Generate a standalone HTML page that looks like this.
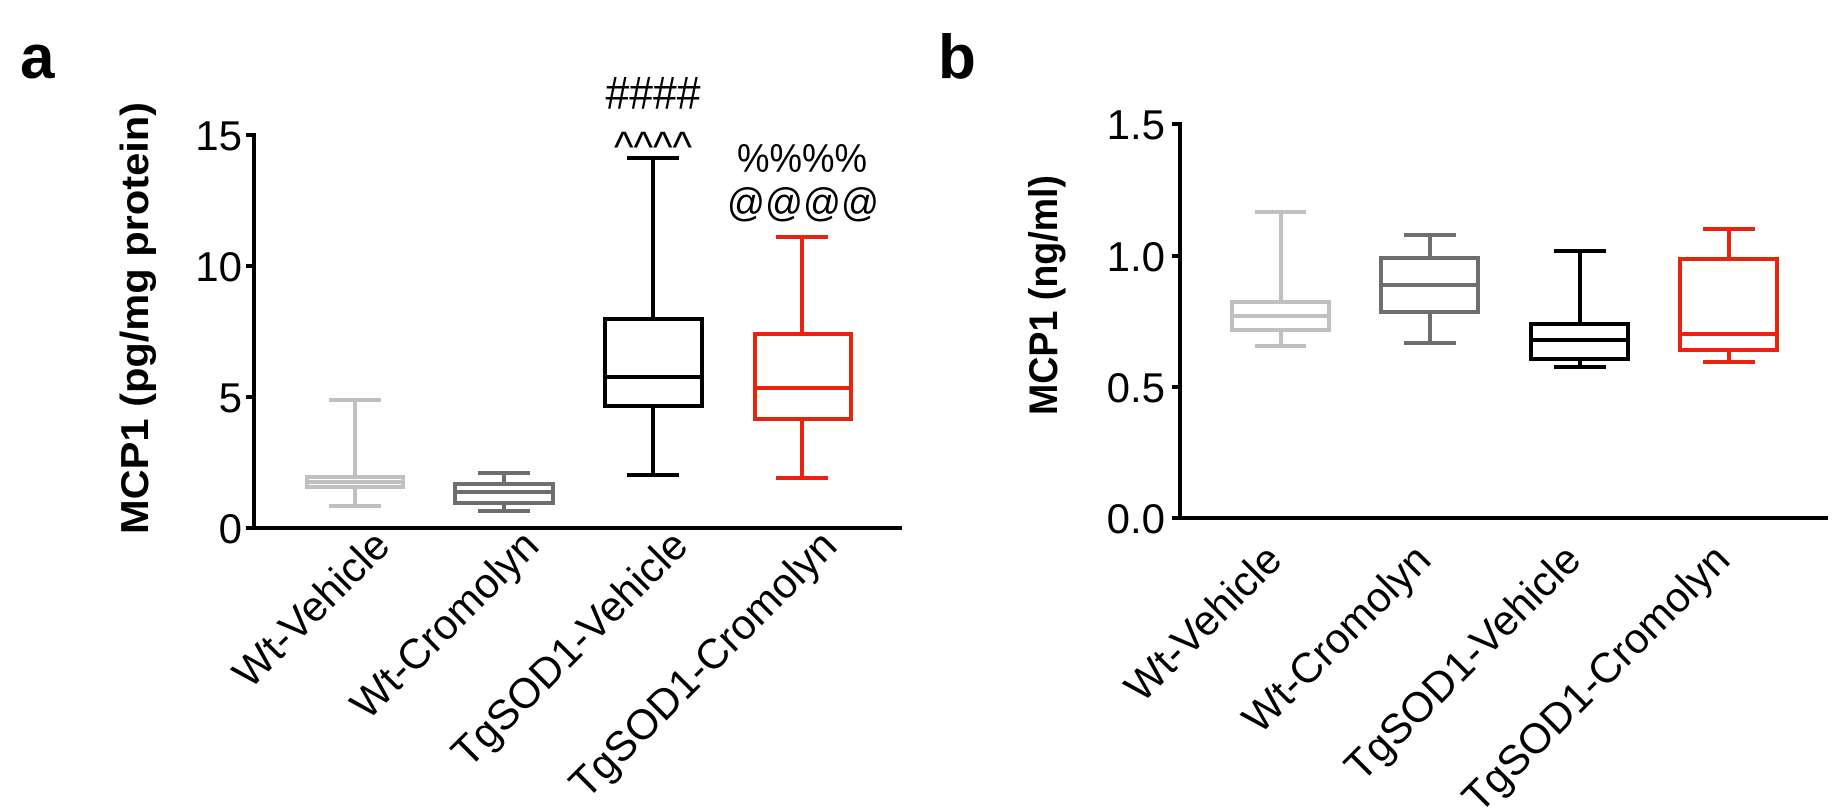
<!DOCTYPE html>
<html><head><meta charset="utf-8"><style>
html,body{margin:0;padding:0;background:#fff;}
svg{display:block;}
text{font-family:"Liberation Sans",Arial,sans-serif;}
</style></head><body>
<svg width="1836" height="812" viewBox="0 0 1836 812" xmlns="http://www.w3.org/2000/svg">
<text x="20" y="78" font-size="62" font-weight="bold">a</text>
<text x="938" y="78" font-size="62" font-weight="bold">b</text>

<!-- ===== Panel a ===== -->
<text transform="translate(148,318) rotate(-90)" text-anchor="middle" font-size="39" font-weight="bold" textLength="432" lengthAdjust="spacingAndGlyphs">MCP1 (pg/mg protein)</text>
<g stroke="#000" stroke-width="4" fill="none">
<line x1="254" y1="133" x2="254" y2="530"/>
<line x1="252" y1="528" x2="902" y2="528"/>
<line x1="246" y1="135" x2="254" y2="135"/>
<line x1="246" y1="266" x2="254" y2="266"/>
<line x1="246" y1="397" x2="254" y2="397"/>
<line x1="246" y1="528" x2="254" y2="528"/>
</g>
<g font-size="42" text-anchor="end">
<text x="242" y="150">15</text>
<text x="242" y="281">10</text>
<text x="242" y="412">5</text>
<text x="242" y="543">0</text>
</g>
<g stroke="#c0c0c0" stroke-width="4" fill="none">
<line x1="329" y1="400" x2="381" y2="400"/><line x1="355" y1="400" x2="355" y2="477"/>
<rect x="307" y="477" width="96" height="10"/><line x1="307" y1="482" x2="403" y2="482"/>
<line x1="355" y1="487" x2="355" y2="506"/><line x1="329" y1="506" x2="381" y2="506"/>
</g>
<g stroke="#6e6e6e" stroke-width="4" fill="none">
<line x1="478" y1="473" x2="530" y2="473"/><line x1="504" y1="473" x2="504" y2="484"/>
<rect x="455" y="484" width="98" height="19"/><line x1="455" y1="492" x2="553" y2="492"/>
<line x1="504" y1="503" x2="504" y2="511"/><line x1="478" y1="511" x2="530" y2="511"/>
</g>
<g stroke="#000" stroke-width="4" fill="none">
<line x1="627" y1="158" x2="679" y2="158"/><line x1="653" y1="158" x2="653" y2="319"/>
<rect x="605" y="319" width="97" height="87"/><line x1="605" y1="377" x2="702" y2="377"/>
<line x1="653" y1="406" x2="653" y2="475"/><line x1="627" y1="475" x2="679" y2="475"/>
</g>
<g stroke="#e8240c" stroke-width="4" fill="none">
<line x1="776" y1="237" x2="828" y2="237"/><line x1="802" y1="237" x2="802" y2="334"/>
<rect x="755" y="334" width="96" height="85"/><line x1="755" y1="388" x2="851" y2="388"/>
<line x1="802" y1="419" x2="802" y2="478"/><line x1="776" y1="478" x2="828" y2="478"/>
</g>
<g text-anchor="middle">
<text x="653" y="109" font-size="46" textLength="95" lengthAdjust="spacingAndGlyphs">####</text>
<text x="653" y="162" font-size="44" textLength="78" lengthAdjust="spacingAndGlyphs">^^^^</text>
<text x="802" y="172" font-size="40" textLength="130" lengthAdjust="spacingAndGlyphs">%%%%</text>
<text x="803" y="216" font-size="40" textLength="152" lengthAdjust="spacingAndGlyphs">@@@@</text>
</g>
<g font-size="42" text-anchor="end">
<text transform="translate(392,548) rotate(-45)">Wt-Vehicle</text>
<text transform="translate(541,548) rotate(-45)">Wt-Cromolyn</text>
<text transform="translate(690,548) rotate(-45)">TgSOD1-Vehicle</text>
<text transform="translate(839,548) rotate(-45)">TgSOD1-Cromolyn</text>
</g>

<!-- ===== Panel b ===== -->
<text transform="translate(1057,295) rotate(-90)" text-anchor="middle" font-size="40" font-weight="bold" textLength="240" lengthAdjust="spacingAndGlyphs">MCP1 (ng/ml)</text>
<g stroke="#000" stroke-width="4" fill="none">
<line x1="1180" y1="122" x2="1180" y2="520"/>
<line x1="1178" y1="518" x2="1828" y2="518"/>
<line x1="1172" y1="124" x2="1180" y2="124"/>
<line x1="1172" y1="256" x2="1180" y2="256"/>
<line x1="1172" y1="387" x2="1180" y2="387"/>
<line x1="1172" y1="518" x2="1180" y2="518"/>
</g>
<g font-size="42" text-anchor="end">
<text x="1165" y="139">1.5</text>
<text x="1165" y="271">1.0</text>
<text x="1165" y="402">0.5</text>
<text x="1165" y="533">0.0</text>
</g>
<g stroke="#c0c0c0" stroke-width="4" fill="none">
<line x1="1255" y1="212" x2="1306" y2="212"/><line x1="1281" y1="212" x2="1281" y2="302"/>
<rect x="1232" y="302" width="97" height="28"/><line x1="1232" y1="316" x2="1329" y2="316"/>
<line x1="1281" y1="330" x2="1281" y2="346"/><line x1="1255" y1="346" x2="1306" y2="346"/>
</g>
<g stroke="#6e6e6e" stroke-width="4" fill="none">
<line x1="1404" y1="235" x2="1456" y2="235"/><line x1="1430" y1="235" x2="1430" y2="258"/>
<rect x="1381" y="258" width="97" height="54"/><line x1="1381" y1="285" x2="1478" y2="285"/>
<line x1="1430" y1="312" x2="1430" y2="343"/><line x1="1404" y1="343" x2="1456" y2="343"/>
</g>
<g stroke="#000" stroke-width="4" fill="none">
<line x1="1554" y1="251" x2="1606" y2="251"/><line x1="1580" y1="251" x2="1580" y2="324"/>
<rect x="1531" y="324" width="97" height="35"/><line x1="1531" y1="340" x2="1628" y2="340"/>
<line x1="1580" y1="359" x2="1580" y2="367"/><line x1="1554" y1="367" x2="1606" y2="367"/>
</g>
<g stroke="#e8240c" stroke-width="4" fill="none">
<line x1="1703" y1="229" x2="1755" y2="229"/><line x1="1729" y1="229" x2="1729" y2="259"/>
<rect x="1680" y="259" width="97" height="91"/><line x1="1680" y1="334" x2="1777" y2="334"/>
<line x1="1729" y1="350" x2="1729" y2="362"/><line x1="1703" y1="362" x2="1755" y2="362"/>
</g>
<g font-size="42" text-anchor="end">
<text transform="translate(1284,562) rotate(-45)">Wt-Vehicle</text>
<text transform="translate(1433,562) rotate(-45)">Wt-Cromolyn</text>
<text transform="translate(1583,562) rotate(-45)">TgSOD1-Vehicle</text>
<text transform="translate(1732,562) rotate(-45)">TgSOD1-Cromolyn</text>
</g>
</svg>
</body></html>
